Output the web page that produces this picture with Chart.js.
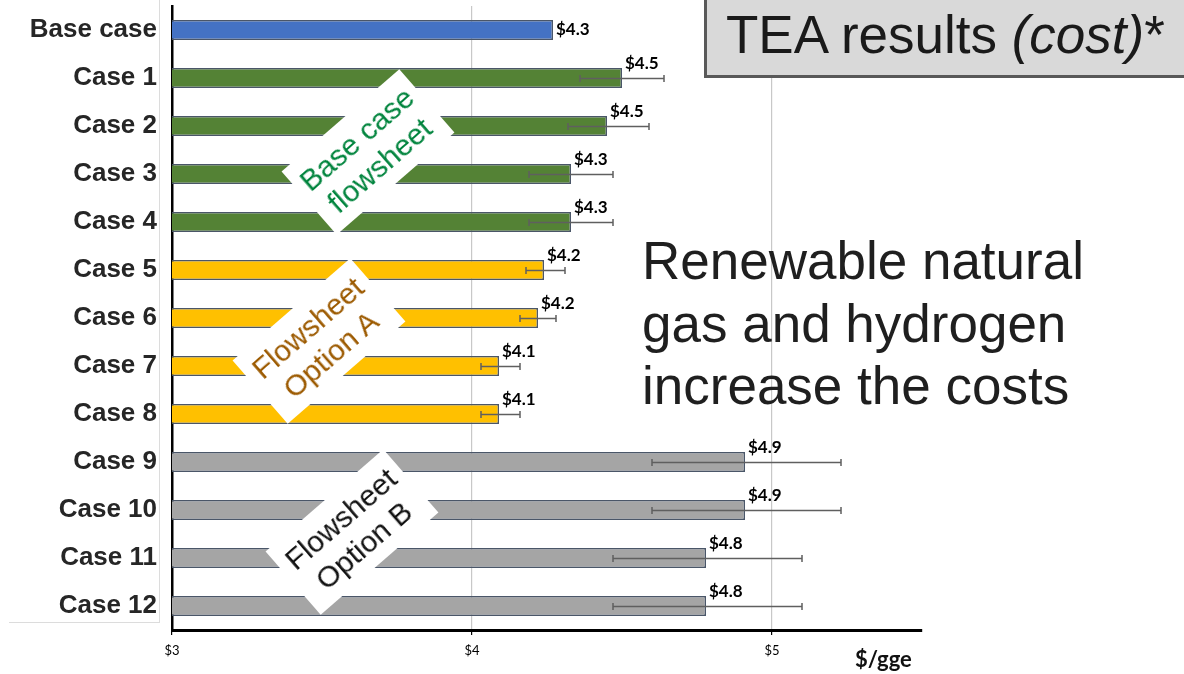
<!DOCTYPE html>
<html>
<head>
<meta charset="utf-8">
<script src="https://cdn.jsdelivr.net/npm/chart.js@4.4.1/dist/chart.umd.min.js"></script>
<style>
  html, body { margin: 0; padding: 0; background: #fff; }
  #wrap { position: relative; width: 1184px; height: 674px; overflow: hidden; }
  #chart { position: absolute; left: 0; top: 0; }
  .panel { position: absolute; left: 9px; top: -2px; width: 150px; height: 624px;
           border-right: 1.5px solid #dcdcdc; border-bottom: 1.5px solid #dcdcdc; }
  .tag { position: absolute; width: 156px; height: 84px; background: #fff;
         font-family: "Liberation Sans", Arial, sans-serif; font-size: 30px; line-height: 35px;
         text-align: center; display: flex; flex-direction: column; justify-content: center;
         transform: translate(-50%, -50%) rotate(-41deg); }
  .tea { position: absolute; left: 704px; top: -3px; width: 520px; height: 81px; box-sizing: border-box;
         background: #d9d9d9; border: 3.5px solid #595959; }
  .tea span { position: absolute; left: 19px; top: 5px; font-family: "Liberation Sans", Arial, sans-serif;
              font-size: 53px; line-height: 60px; color: #1a1a1a; white-space: nowrap; }
  .note { position: absolute; left: 642px; top: 230px; font-family: "Liberation Sans", Arial, sans-serif;
          font-size: 53px; line-height: 62.5px; color: #1f1f1f; white-space: nowrap; }
  .unit { position: absolute; left: 855px; top: 648px; font-family: Lato, sans-serif; font-weight: bold;
          font-size: 22px; line-height: 22px; color: #111; }
</style>
</head>
<body>
<div id="wrap">
  <div class="panel"></div>
  <canvas id="chart" width="1184" height="674"></canvas>
  <div class="tag" style="left:368px; top:152px; color:#00843d;">Base case<br>flowsheet</div>
  <div class="tag" style="left:319px; top:341px; color:#9c5a00;">Flowsheet<br>Option A</div>
  <div class="tag" style="left:352px; top:532px; color:#111;">Flowsheet<br>Option B</div>
  <div class="tea"><span>TEA results <i>(cost)</i>*</span></div>
  <div class="note">Renewable natural<br>gas and hydrogen<br>increase the costs</div>
  <div class="unit">$/gge</div>
</div>
<script>
// cost per gasoline gallon equivalent for each case
const categories = ["Base case", "Case 1", "Case 2", "Case 3", "Case 4", "Case 5", "Case 6",
  "Case 7", "Case 8", "Case 9", "Case 10", "Case 11", "Case 12"];
const costValues = [4.27, 4.50, 4.45, 4.33, 4.33, 4.24, 4.22, 4.09, 4.09, 4.91, 4.91, 4.78, 4.78];
// uncertainty range (low / high end of error bar)
const errLow  = [null, 4.36, 4.32, 4.19, 4.19, 4.18, 4.16, 4.03, 4.03, 4.60, 4.60, 4.47, 4.47];
const errHigh = [null, 4.64, 4.59, 4.47, 4.47, 4.31, 4.28, 4.16, 4.16, 5.23, 5.23, 5.10, 5.10];
const xTicks = [3, 4, 5];

const BLUE = "#4472c4", GREEN = "#548235", GOLD = "#ffc000", GREY = "#a5a5a5";
const barColors = [BLUE, GREEN, GREEN, GREEN, GREEN, GOLD, GOLD, GOLD, GOLD, GREY, GREY, GREY, GREY];

const errorBars = {
  id: "errorBars",
  afterDatasetsDraw(chart) {
    const { ctx } = chart;
    const xs = chart.scales.x;
    const meta = chart.getDatasetMeta(0);
    ctx.save();
    ctx.strokeStyle = "#5f5f5f";
    ctx.lineWidth = 1.5;
    meta.data.forEach((bar, i) => {
      if (errLow[i] == null) return;
      const x0 = xs.getPixelForValue(errLow[i]);
      const x1 = xs.getPixelForValue(errHigh[i]);
      const y = Math.round(bar.y) + 0.5;
      ctx.beginPath();
      ctx.moveTo(x0, y); ctx.lineTo(x1, y);
      ctx.moveTo(x0, y - 3.5); ctx.lineTo(x0, y + 3.5);
      ctx.moveTo(x1, y - 3.5); ctx.lineTo(x1, y + 3.5);
      ctx.stroke();
    });
    ctx.restore();
  }
};

const valueLabels = {
  id: "valueLabels",
  afterDatasetsDraw(chart) {
    const { ctx } = chart;
    const meta = chart.getDatasetMeta(0);
    ctx.save();
    ctx.font = "bold 17px Lato, sans-serif";
    ctx.fillStyle = "#000";
    ctx.textAlign = "left";
    ctx.textBaseline = "middle";
    meta.data.forEach((bar, i) => {
      const lift = errLow[i] == null ? 0 : 14;
      ctx.fillText("$" + costValues[i].toFixed(1), bar.x + 3, bar.y - lift);
    });
    ctx.restore();
  }
};

// drop the half-label padding so the plot fills the height
const noEdgePad = scale => {
  scale.paddingTop = 0;
  scale.paddingBottom = 0;
};

new Chart(document.getElementById("chart"), {
  type: "bar",
  data: {
    labels: categories,
    datasets: [{
      data: costValues,
      backgroundColor: barColors,
      borderColor: "#4a5668",
      borderWidth: 1.5,
      categoryPercentage: 1,
      barPercentage: 0.42
    }]
  },
  options: {
    indexAxis: "y",
    responsive: false,
    animation: false,
    layout: { padding: { top: 6, right: 262, left: 0, bottom: 0 } },
    plugins: { legend: { display: false }, tooltip: { enabled: false } },
    scales: {
      x: {
        min: 3,
        max: 5.5,
        afterBuildTicks(scale) { scale.ticks = xTicks.map(v => ({ value: v })); },
        afterFit(scale) { scale.height = 44; },
        grid: { color: "#c8c8c8", lineWidth: 1.2, tickColor: "#000", tickLength: 5 },
        border: { color: "#000", width: 3 },
        ticks: {
          padding: 8,
          maxRotation: 0,
          color: "#000",
          font: { family: "Lato, sans-serif", size: 13 },
          callback: v => "$" + v
        }
      },
      y: {
        afterFit(scale) { scale.width = 172; noEdgePad(scale); },
        grid: { display: false, drawTicks: false },
        border: { color: "#000", width: 2.5 },
        ticks: {
          autoSkip: false,
          padding: 15,
          color: "#262626",
          font: { family: "'Liberation Sans', Arial, sans-serif", size: 26, weight: "bold" }
        }
      }
    }
  },
  plugins: [errorBars, valueLabels]
});
</script>
</body>
</html>
